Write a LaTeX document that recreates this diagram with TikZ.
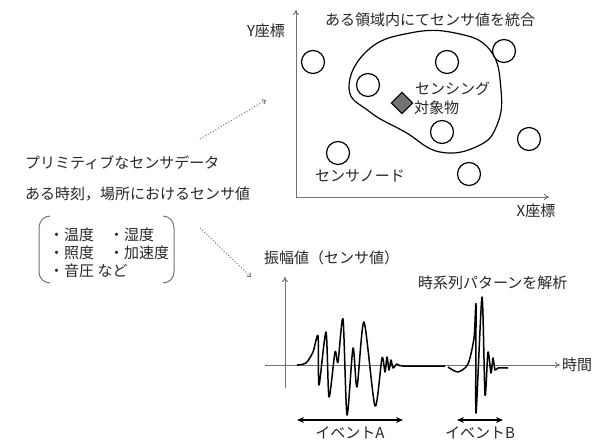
\documentclass[tikz,border=0pt]{standalone}
\usepackage{fontspec}
\setmainfont{Noto Sans CJK JP}
\usetikzlibrary{arrows.meta}
\tikzset{
  lbl/.style={inner sep=0pt, font=\fontsize{15}{18}\selectfont, text=black!85},
  axisline/.style={draw=black!55, line width=1pt, -{To[length=5pt,width=6pt]}},
  sensor/.style={circle, draw=black, line width=1.2pt, minimum size=23pt, inner sep=0pt},
  dotarrow/.style={draw=black!55, line width=1pt, dotted, -{Straight Barb[length=3pt,width=5pt]}},
  wave/.style={draw=black, line width=1.5pt, line join=round},
  span/.style={draw=black, line width=1.3pt, {Stealth[length=7pt,width=6pt]}-{Stealth[length=7pt,width=6pt]}},
  paren/.style={draw=black!55, line width=1pt}
}
\begin{document}
\begin{tikzpicture}[x=1pt,y=-1pt]
\useasboundingbox (0,0) rectangle (594,440);
% ---- top panel axes
\coordinate (o1) at (296,197);
\coordinate (yt) at (296,10);
\coordinate (xr) at (549,197);
\draw[axisline] (o1) -- (yt);
\draw[axisline] (o1) -- (xr);
\node[lbl] (ylab) at (266,31) {Y座標};
\node[lbl] (xlab) at (536,211) {X座標};
\node[lbl] (title) at (430,20) {ある領域内にてセンサ値を統合};
% region blob
\draw[line width=1.2pt] plot[smooth cycle, tension=0.75] coordinates {(349,88) (368,50) (410,33) (455,33) (490,50) (501,90) (497,125) (478,146) (440,152) (405,132) (370,112)};
% sensors
\node[sensor] (s1) at (313,62) {};
\node[sensor] (s2) at (368,85) {};
\node[sensor] (s3) at (447,62) {};
\node[sensor] (s4) at (504,51) {};
\node[sensor] (s5) at (442,132) {};
\node[sensor] (s6) at (529,139) {};
\node[sensor] (s7) at (338,153) {};
\node[sensor] (s8) at (469,174) {};
\node[draw=black, fill=black!55, line width=1pt, minimum size=15pt, inner sep=0pt, rotate=45] (tgt) at (402,103) {};
\node[lbl, anchor=west] (tgt1) at (415,89) {センシング};
\node[lbl, anchor=west] (tgt2) at (414,108) {対象物};
\node[lbl] (nodelab) at (360,176) {センサノード};
% ---- left text
\node[lbl, anchor=west] (prim) at (25,163) {プリミティブなセンサデータ};
\node[lbl, anchor=west] (jikoku) at (25,194) {ある時刻，場所におけるセンサ値};
\node[lbl, anchor=west] (l1) at (49,235) {・温度　・湿度};
\node[lbl, anchor=west] (l2) at (49,253) {・照度　・加速度};
\node[lbl, anchor=west] (l3) at (49,271) {・音圧 など};
\draw[paren] (50,216) to[out=180,in=90] (39,228) -- (39,272) to[out=-90,in=180] (50,283);
\draw[paren] (163,216) to[out=0,in=90] (174,228) -- (174,272) to[out=-90,in=0] (163,283);
% dotted arrows
\coordinate (d1s) at (200,139);
\coordinate (d1e) at (266,100);
\coordinate (d2s) at (200,228);
\coordinate (d2e) at (251,277);
\draw[dotarrow] (d1s) -- (d1e);
\draw[dotarrow] (d2s) -- (d2e);
% ---- bottom panel
\coordinate (yb0) at (285,388);
\coordinate (ybt) at (285,277);
\coordinate (xb0) at (265,365);
\coordinate (xbr) at (560,365);
\draw[axisline] (yb0) -- (ybt);
\draw[axisline] (xb0) -- (xbr);
\node[lbl, anchor=west] (tlab) at (562,365) {時間};
\node[lbl, anchor=west] (alab) at (264,258) {振幅値（センサ値）};
\node[lbl, anchor=west] (ana) at (418,283) {時系列パターンを解析};
\draw[wave] plot[smooth, tension=0.45] coordinates {(297,365) (306,363) (313,352) (318,336) (319,385) (326,332) (329,397) (335,352) (338,362) (343,319) (347,415) (353,348) (357,387) (364,322) (375,406) (382,358) (385,372) (387,357) (389,370) (391,360) (393,368) (397,364) (403,366) (445,366)};
\draw[wave] plot[smooth, tension=0.45] coordinates {(448,367) (458,372) (468,364) (474,338) (476,305) (476,413) (482,297) (485,395) (488,352) (491,373) (493,358) (495,370) (498,368) (508,368)};
\coordinate (a1) at (297,420);
\coordinate (a2) at (403,420);
\coordinate (b1) at (457,420);
\coordinate (b2) at (503,420);
\draw[span] (a1) -- (a2);
\draw[span] (b1) -- (b2);
\node[lbl] (evA) at (350,433) {イベントA};
\node[lbl] (evB) at (480,433) {イベントB};
\end{tikzpicture}
\end{document}
